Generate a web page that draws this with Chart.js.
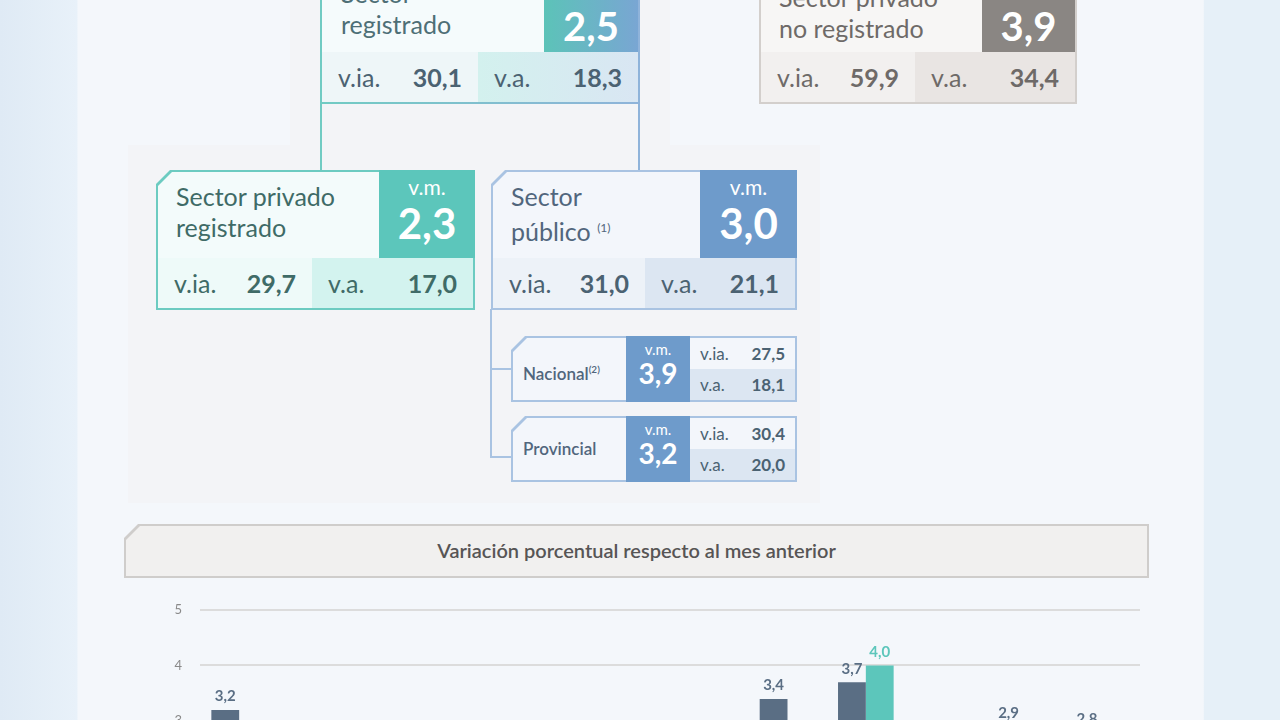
<!DOCTYPE html>
<html><head><meta charset="utf-8">
<script src="https://cdn.jsdelivr.net/npm/chart.js@4"></script>
<style>
body{margin:0;width:1280px;height:720px;overflow:hidden;position:relative;background:linear-gradient(90deg,#dfeaf5,#e8f1f9 6%,#f4f7fb 6.1%,#f4f7fb 94%,#e6f0f8 94.1%);font-family:Lato,"Open Sans",sans-serif;}
.abs{position:absolute;box-sizing:border-box;}
.bg{background:#f3f4f7;}
.cut{clip-path:polygon(14px 0,100% 0,100% 100%,0 100%,0 14px);}
.t{color:#3f6b67;font-size:25px;line-height:31px;}
.num{font-weight:700;}
.cell{display:flex;align-items:center;justify-content:space-between;padding:0 16px;font-size:25px;}
.vm{color:#fff;text-align:center;}
</style></head><body>
<div class="abs bg" style="left:290px;top:0;width:380px;height:150px"></div>
<div class="abs bg" style="left:128px;top:145px;width:692px;height:358px"></div>

<div class="abs" style="left:320px;top:-30px;width:320px;height:134px;background:linear-gradient(90deg,#71cbc3,#8fb3da)"></div>
<div class="abs" style="left:322px;top:-30px;width:222px;height:82px;background:#f5fbfc"></div>
<div class="abs t" style="left:341px;top:-22px;color:#4e6f76">Sector<br>registrado</div>
<div class="abs vm num" style="left:544px;top:0;width:94px;height:52px;background:linear-gradient(90deg,#5cc3b8,#79a6d3);font-size:40px;line-height:52px">2,5</div>
<div class="abs cell" style="left:322px;top:52px;width:156px;height:50px;background:#eef6f8;color:#4b6272"><span>v.ia.</span><span class="num">30,1</span></div>
<div class="abs cell" style="left:478px;top:52px;width:160px;height:50px;background:linear-gradient(90deg,#d3f1ee,#d9e6f3);color:#4b6272"><span>v.a.</span><span class="num">18,3</span></div>

<div class="abs" style="left:759px;top:-30px;width:318px;height:134px;background:#d3cfcc"></div>
<div class="abs" style="left:761px;top:-30px;width:221px;height:82px;background:#f7f6f5"></div>
<div class="abs t" style="left:779px;top:-18px;color:#6e6a68">Sector privado<br>no registrado</div>
<div class="abs vm num" style="left:982px;top:0;width:93px;height:52px;background:#8a8683;font-size:40px;line-height:52px">3,9</div>
<div class="abs cell" style="left:761px;top:52px;width:154px;height:50px;background:#f2f0ef;color:#6e6a68"><span>v.ia.</span><span class="num">59,9</span></div>
<div class="abs cell" style="left:915px;top:52px;width:160px;height:50px;background:#e9e5e3;color:#6e6a68"><span>v.a.</span><span class="num">34,4</span></div>

<div class="abs" style="left:320px;top:103px;width:2px;height:68px;background:#71cbc3"></div>
<div class="abs" style="left:638px;top:103px;width:2px;height:68px;background:#8fb3da"></div>
<div class="abs" style="left:490px;top:309px;width:2px;height:149px;background:#a9c3e2"></div>
<div class="abs" style="left:490px;top:368px;width:22px;height:2px;background:#a9c3e2"></div>
<div class="abs" style="left:490px;top:456px;width:22px;height:2px;background:#a9c3e2"></div>

<div class="abs cut" style="left:156px;top:170px;width:319px;height:140px;background:#6ccbc1"></div>
<div class="abs cut" style="left:158px;top:172px;width:221px;height:86px;background:#f3fbfb"></div>
<div class="abs t" style="left:176px;top:181px">Sector privado<br>registrado</div>
<div class="abs vm" style="left:379px;top:170px;width:96px;height:88px;background:#5cc6bb"><div style="font-size:21px;margin-top:4px">v.m.</div><div class="num" style="font-size:42px;line-height:48px">2,3</div></div>
<div class="abs cell" style="left:158px;top:258px;width:154px;height:50px;background:#eefaf9;color:#3f6b67"><span>v.ia.</span><span class="num">29,7</span></div>
<div class="abs cell" style="left:312px;top:258px;width:161px;height:50px;background:#d3f3ef;color:#3f6b67"><span>v.a.</span><span class="num">17,0</span></div>

<div class="abs cut" style="left:491px;top:170px;width:306px;height:140px;background:#a9c3e2"></div>
<div class="abs cut" style="left:493px;top:172px;width:207px;height:86px;background:#f3f6fb"></div>
<div class="abs t" style="left:511px;top:181px;color:#51667d">Sector<br>público <sup style="font-size:12px">(1)</sup></div>
<div class="abs vm" style="left:700px;top:170px;width:97px;height:88px;background:#6e9bcb"><div style="font-size:21px;margin-top:4px">v.m.</div><div class="num" style="font-size:42px;line-height:48px">3,0</div></div>
<div class="abs cell" style="left:493px;top:258px;width:152px;height:50px;background:#edf2f8;color:#4b6272"><span>v.ia.</span><span class="num">31,0</span></div>
<div class="abs cell" style="left:645px;top:258px;width:150px;height:50px;background:#dce6f2;color:#4b6272"><span>v.a.</span><span class="num">21,1</span></div>

<div class="abs cut" style="left:511px;top:336px;width:286px;height:66px;background:#a9c3e2"></div>
<div class="abs cut" style="left:513px;top:338px;width:113px;height:62px;background:#f3f6fb;color:#51667d;font-size:17px;line-height:62px;padding-left:10px;font-weight:600">Nacional<sup style="font-size:10px">(2)</sup></div>
<div class="abs vm" style="left:626px;top:336px;width:64px;height:66px;background:#6e9bcb"><div style="font-size:15px;margin-top:4px">v.m.</div><div class="num" style="font-size:28px;line-height:30px">3,9</div></div>
<div class="abs cell" style="left:690px;top:338px;width:105px;height:31px;background:#f3f6fb;color:#4b6272;font-size:17px;padding:0 10px"><span>v.ia.</span><span class="num">27,5</span></div>
<div class="abs cell" style="left:690px;top:369px;width:105px;height:31px;background:#dce6f2;color:#4b6272;font-size:17px;padding:0 10px"><span>v.a.</span><span class="num">18,1</span></div>

<div class="abs cut" style="left:511px;top:416px;width:286px;height:66px;background:#a9c3e2"></div>
<div class="abs cut" style="left:513px;top:418px;width:113px;height:62px;background:#f3f6fb;color:#51667d;font-size:17px;line-height:62px;padding-left:10px;font-weight:600">Provincial</div>
<div class="abs vm" style="left:626px;top:416px;width:64px;height:66px;background:#6e9bcb"><div style="font-size:15px;margin-top:4px">v.m.</div><div class="num" style="font-size:28px;line-height:30px">3,2</div></div>
<div class="abs cell" style="left:690px;top:418px;width:105px;height:31px;background:#f3f6fb;color:#4b6272;font-size:17px;padding:0 10px"><span>v.ia.</span><span class="num">30,4</span></div>
<div class="abs cell" style="left:690px;top:449px;width:105px;height:31px;background:#dce6f2;color:#4b6272;font-size:17px;padding:0 10px"><span>v.a.</span><span class="num">20,0</span></div>

<div class="abs cut" style="left:124px;top:524px;width:1025px;height:54px;background:#cfcdcb"></div>
<div class="abs cut" style="left:126px;top:526px;width:1021px;height:50px;background:#f1f0ef;color:#575555;font-size:20px;line-height:48px;text-align:center;font-weight:600">Variación porcentual respecto al mes anterior</div>

<div class="abs" style="left:148px;top:584px;width:992px;height:330px"><canvas id="c"></canvas></div>

<script>
const categories=["Oct","Nov","Dic","Ene","Feb","Mar","Abr","May","Jun","Jul","Ago","Sep"];
const seriesMain=[3.2,2.4,2.1,2.3,2.0,2.5,2.6,3.4,3.7,2.2,2.9,2.8];
const seriesHighlight=[null,null,null,null,null,null,null,null,4.0,null,null,null];
const yTicks=[0,1,2,3,4,5];

const labelPlugin={id:'lbl',afterDatasetsDraw(ch){
  const ctx=ch.ctx;ctx.save();ctx.textAlign='center';ctx.textBaseline='bottom';
  ctx.font='bold 15px Lato, sans-serif';
  ch.data.datasets.forEach((ds,i)=>{
    ch.getDatasetMeta(i).data.forEach((el,j)=>{
      const v=ds.data[j]; if(v==null)return;
      ctx.fillStyle=i===0?'#5a6e84':'#5cc6bb';
      ctx.fillText(v.toFixed(1).replace('.',','),el.x,el.y-6);
    });
  });ctx.restore();}};

new Chart(document.getElementById('c'),{
  type:'bar',
  data:{labels:categories,datasets:[
    {data:seriesMain,backgroundColor:'#5a6e84'},
    {data:seriesHighlight,backgroundColor:'#5cc6bb'}]},
  options:{responsive:true,maintainAspectRatio:false,animation:false,
    layout:{padding:{top:15,bottom:20,left:0,right:0}},
    datasets:{bar:{categoryPercentage:0.71,barPercentage:1}},
    plugins:{legend:{display:false},tooltip:{enabled:false}},
    scales:{
      x:{display:false},
      y:{min:0,max:5,afterBuildTicks(a){a.ticks=yTicks.map(v=>({value:v}));},
         afterFit(a){a.width=52;},
         border:{display:false},
         grid:{color:'#dcdcdc',lineWidth:2,drawTicks:false},
         ticks:{color:'#8a8a8a',padding:18,font:{size:13,family:'Lato'}}}
    }}
  ,plugins:[labelPlugin]});
</script>
</body></html>
